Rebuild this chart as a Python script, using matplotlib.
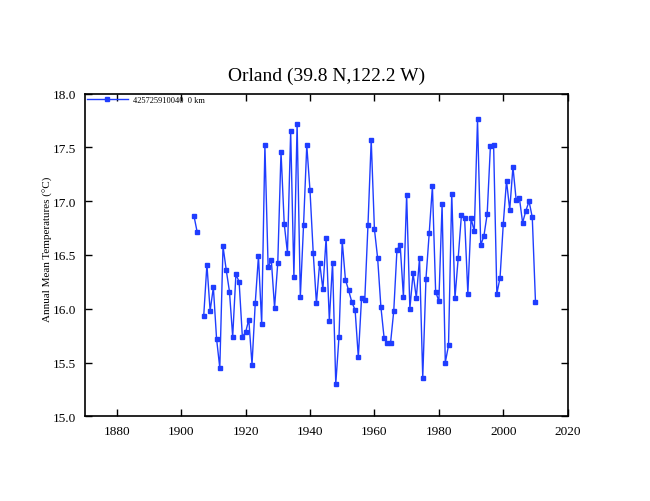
import matplotlib
matplotlib.use("Agg")
import matplotlib.pyplot as plt
from matplotlib.ticker import MultipleLocator

years = [1904, 1905] + list(range(1907, 2011))
temps = [16.86, 16.71,
         15.93, 16.41, 15.98, 16.20, 15.72, 15.45, 16.58, 16.36, 16.16, 15.74,
         16.32, 16.25, 15.74, 15.78, 15.90, 15.48, 16.05, 16.49, 15.86, 17.52,
         16.39, 16.45, 16.01, 16.43, 17.46, 16.79, 16.52, 17.65, 16.30, 17.72,
         16.11, 16.78, 17.52, 17.10, 16.52, 16.05, 16.43, 16.18, 16.66, 15.89,
         16.43, 15.30, 15.74, 16.63, 16.27, 16.17, 16.06, 15.99, 15.55, 16.10,
         16.08, 16.78, 17.57, 16.74, 16.47, 16.02, 15.73, 15.68, 15.68, 15.98,
         16.55, 16.59, 16.11, 17.06, 16.00, 16.33, 16.10, 16.47, 15.36, 16.28,
         16.70, 17.14, 16.16, 16.07, 16.97, 15.50, 15.66, 17.07, 16.10, 16.47,
         16.87, 16.84, 16.14, 16.84, 16.72, 17.76, 16.59, 16.68, 16.88, 17.51,
         17.52, 16.14, 16.29, 16.79, 17.19, 16.92, 17.32, 17.01, 17.03, 16.80,
         16.91, 17.00, 16.85, 16.06]

title = "Orland (39.8 N,122.2 W)"
ylabel = "Annual Mean Temperatures (\u00b0C)"
legend_label = "425725910040  0 km"

serif = ["Liberation Serif", "DejaVu Serif"]
plt.rcParams["font.family"] = serif

fig = plt.figure(figsize=(6.5, 5.02), dpi=100)
ax = fig.add_axes([0.130, 0.1687, 0.7434, 0.6427])

# split at the gap (1906 missing)
segs = []
cur_x, cur_y = [], []
prev = None
for x, y in zip(years, temps):
    if prev is not None and x - prev > 1:
        segs.append((cur_x, cur_y))
        cur_x, cur_y = [], []
    cur_x.append(x)
    cur_y.append(y)
    prev = x
segs.append((cur_x, cur_y))

color = "#1f3dff"
for i, (sx, sy) in enumerate(segs):
    ax.plot(sx, sy, color=color, lw=1.0, marker="s", ms=3.4,
            mec=color, mfc=color, label=legend_label if i == 0 else None)

ax.set_xlim(1870, 2020)
ax.set_ylim(15.0, 18.0)
ax.xaxis.set_major_locator(MultipleLocator(20))
ax.yaxis.set_major_locator(MultipleLocator(0.5))
ax.yaxis.set_major_formatter(matplotlib.ticker.FormatStrFormatter("%.1f"))
ax.tick_params(direction="in", top=True, right=True, length=5, width=1,
               labelsize=9.5, pad=6)
for s in ax.spines.values():
    s.set_linewidth(1.2)

ax.set_title(title, fontsize=14, pad=10)
fig.text(48 / 650, 1 - 249 / 502, ylabel, fontsize=8, rotation=90,
         ha="center", va="center")

leg = ax.legend(loc="upper left", frameon=False, fontsize=6,
                handlelength=5.0, borderaxespad=0.1, borderpad=0.15,
                handletextpad=0.55)

fig.savefig("out.png", dpi=100)
